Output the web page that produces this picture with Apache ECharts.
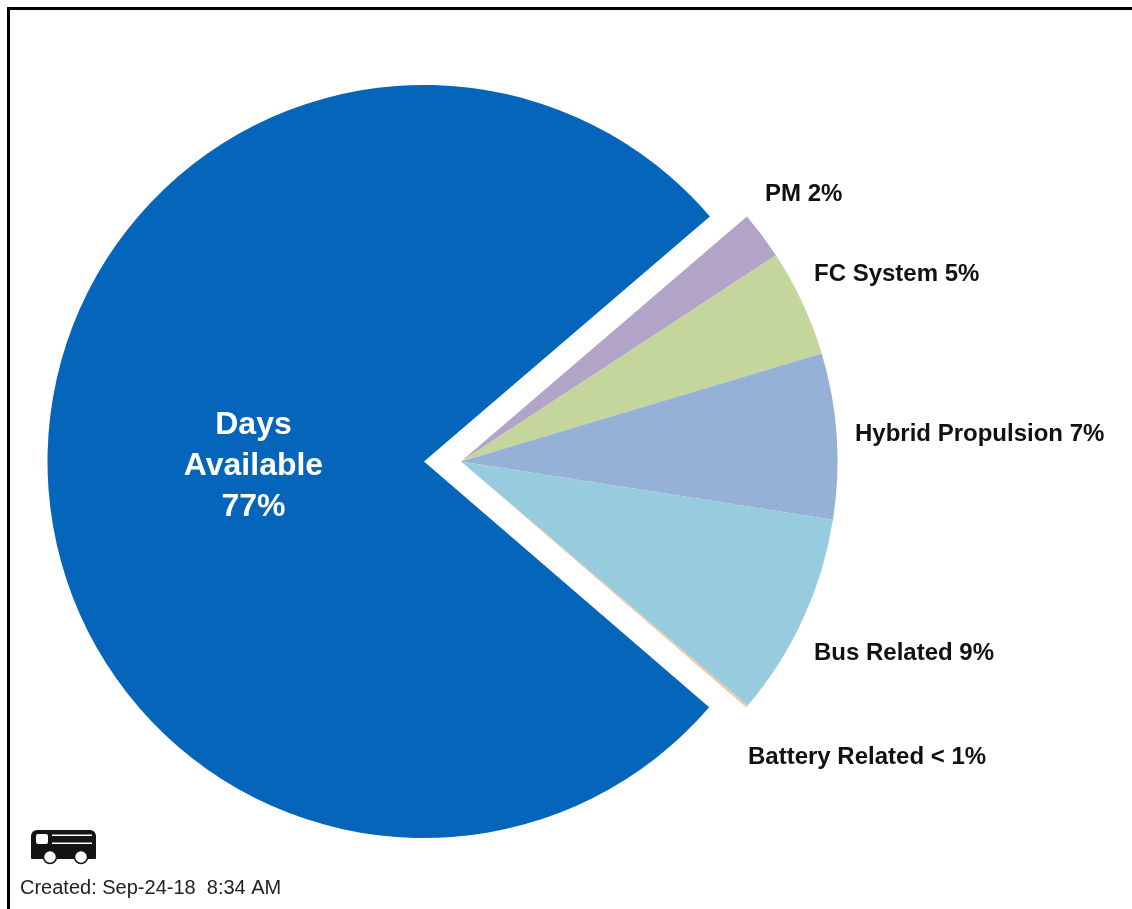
<!DOCTYPE html>
<html>
<head>
<meta charset="utf-8">
<style>html,body{margin:0;padding:0;background:#fff}#c{width:1132px;height:909px}</style>
<script src="https://cdn.jsdelivr.net/npm/echarts@6/dist/echarts.min.js"></script>
</head>
<body>
<div id="c"></div>
<script>
var categories = ['PM', 'FC System', 'Hybrid Propulsion', 'Bus Related', 'Battery Related', 'Days Available'];
var values = [2.05, 4.6, 7.1, 8.75, 0.1, 77.4];
var labels = ['PM 2%', 'FC System 5%', 'Hybrid Propulsion 7%', 'Bus Related 9%', 'Battery Related < 1%', 'Days\nAvailable\n77%'];
var colors = ['#b1a4c8', '#c5d69d', '#95b2d6', '#97cbde', '#efc7a0', '#0565bb'];
var createdText = 'Created: Sep-24-18  8:34 AM';
var labelPlaces = [
  {x: 765, y: 194}, {x: 814, y: 274}, {x: 855, y: 434}, {x: 814, y: 653}, {x: 748, y: 757}, {x: 253.5, y: 466, align: 'center'}
];
var FONT = '"Liberation Sans", Arial, sans-serif';
var last = categories.length - 1;

function sliceData(showIndex) {
  return categories.map(function (name, i) {
    var shown = showIndex(i);
    return {
      name: name,
      value: values[i],
      itemStyle: shown ? {color: colors[i]} : {color: 'transparent'},
      label: shown ? (i === last
        ? {show: true, formatter: labels[i], color: '#fff', fontSize: 32, fontWeight: 'bold', fontFamily: FONT, lineHeight: 41, align: 'center'}
        : {show: true, formatter: labels[i], color: '#111', fontSize: 24, fontWeight: 'bold', fontFamily: FONT, align: 'left'}) : {show: false},
      labelLine: {show: false}
    };
  });
}
function place(params) {
  var p = labelPlaces[params.dataIndex];
  return {x: p.x, y: p.y, align: p.align || 'left', verticalAlign: 'middle'};
}
var base = {type: 'pie', radius: [0, 376.5], startAngle: 40.6, clockwise: true, silent: true, animation: false,
  avoidLabelOverlap: false, minShowLabelAngle: 0, label: {position: 'outside'}, labelLayout: place};

var chart = echarts.init(document.getElementById('c'), null, {renderer: 'canvas'});
chart.setOption({
  backgroundColor: '#fff',
  animation: false,
  series: [
    Object.assign({}, base, {center: [424, 461.5], data: sliceData(function (i) { return i === last; })}),
    Object.assign({}, base, {center: [461, 461.5], data: sliceData(function (i) { return i !== last; })})
  ],
  graphic: [
    {type: 'rect', shape: {x: 8.5, y: 8.5, width: 1140, height: 920}, style: {fill: 'none', stroke: '#000', lineWidth: 3}, silent: true},
    {type: 'group', silent: true, children: [
      {type: 'rect', shape: {x: 31, y: 830, width: 65, height: 29, r: [6, 6, 1, 1]}, style: {fill: '#141414'}},
      {type: 'rect', shape: {x: 36, y: 834, width: 12, height: 10, r: 2}, style: {fill: '#fff'}},
      {type: 'rect', shape: {x: 52, y: 834.5, width: 40, height: 1.5}, style: {fill: '#fff'}},
      {type: 'rect', shape: {x: 52, y: 842.5, width: 40, height: 1.5}, style: {fill: '#fff'}},
      {type: 'circle', shape: {cx: 50, cy: 857, r: 6.5}, style: {fill: '#fff', stroke: '#141414', lineWidth: 1.5}},
      {type: 'circle', shape: {cx: 81, cy: 857, r: 6.5}, style: {fill: '#fff', stroke: '#141414', lineWidth: 1.5}}
    ]},
    {type: 'text', left: 20, top: 878, style: {text: createdText, fill: '#222', font: '20px ' + FONT}, silent: true}
  ]
});
</script>
</body>
</html>
